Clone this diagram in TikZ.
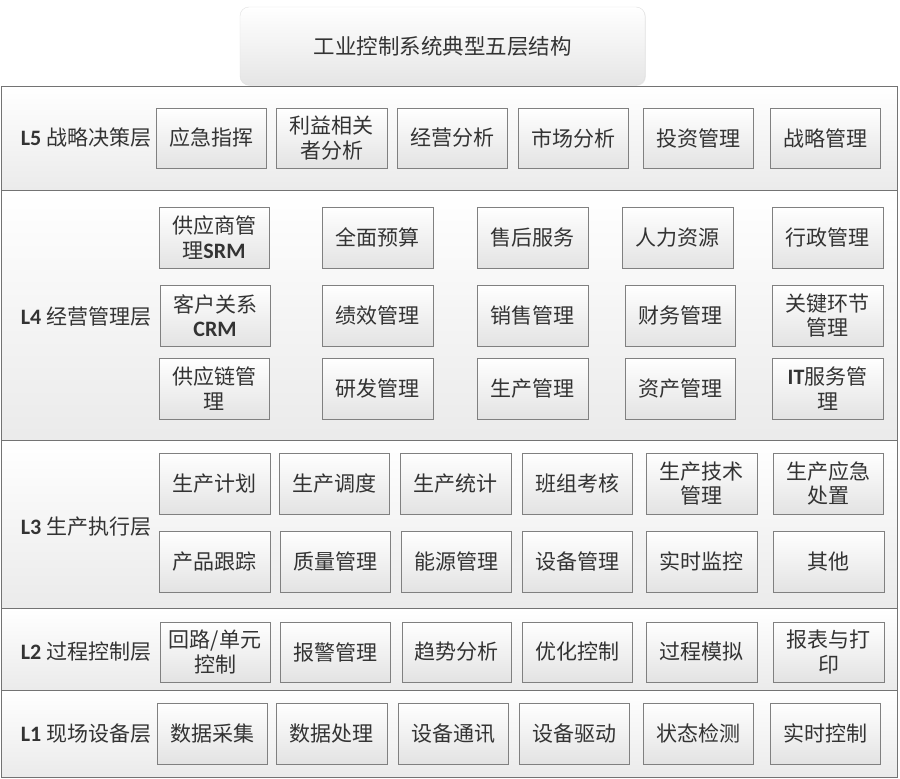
\documentclass[tikz,border=0pt]{standalone}
\usepackage{fontspec}
\setmainfont{Noto Sans CJK SC}
\newfontfamily\lat{Carlito}
\usetikzlibrary{shadows}
\newcommand\la[1]{{\lat\bfseries\fontsize{22}{25}\selectfont #1}}
\newcommand\bx[6]{\node[box,minimum width={(#4-#2)*1pt},minimum height={(#5-#3)*1pt}] (#1) at ({(#2+#4)/2},{(#3+#5)/2}) {#6};}
\begin{document}
\begin{tikzpicture}[x=1pt,y=-1pt,
  txt/.style={text=black!80,font=\fontsize{21}{24.5}\selectfont,align=center,inner sep=0pt},
  box/.style={txt,draw=black!50,line width=0.9pt,top color=white,bottom color=black!11,
    drop shadow={shadow xshift=1.2pt,shadow yshift=-1.2pt,fill=black!25,opacity=0.6}},
  band/.style={draw=black!55,line width=0.9pt,top color=white,bottom color=black!8,inner sep=0pt},
  lbl/.style={txt,anchor=center},
  title/.style={txt,font=\fontsize{21.5}{24}\selectfont,rounded corners=9pt,draw=black!12,top color=white,bottom color=black!10,
    drop shadow={shadow xshift=0.8pt,shadow yshift=-0.8pt,fill=black!15,opacity=0.5}}]
\useasboundingbox (0,0) rectangle (900,779);
\fill[white] (0,0) rectangle (900,779);
% bands
\node[band,minimum width=896pt,minimum height=105pt] (B5) at (449,138.5) {};
\node[band,minimum width=896pt,minimum height=250pt] (B4) at (449,315) {};
\node[band,minimum width=896pt,minimum height=168pt] (B3) at (449,524) {};
\node[band,minimum width=896pt,minimum height=82pt] (B2) at (449,649) {};
\node[band,minimum width=896pt,minimum height=87pt] (B1) at (449,733.5) {};
% title
\node[title,minimum width=405pt,minimum height=78pt] (T) at (442.5,46) {工业控制系统典型五层结构};
% labels
\node[lbl] (N5) at (86,138) {\la{L5} 战略决策层};
\node[lbl] (N4) at (86,317) {\la{L4} 经营管理层};
\node[lbl] (N3) at (86,527) {\la{L3} 生产执行层};
\node[lbl] (N2) at (86,652) {\la{L2} 过程控制层};
\node[lbl] (N1) at (86,734) {\la{L1} 现场设备层};
% L5
\bx{a1}{156}{108}{266}{168}{应急指挥}
\bx{a2}{276}{108}{387}{168}{利益相关\\者分析}
\bx{a3}{397}{108}{507}{168}{经营分析}
\bx{a4}{518}{108}{628}{168}{市场分析}
\bx{a5}{643}{108}{753}{168}{投资管理}
\bx{a6}{770}{108}{880}{168}{战略管理}
% L4
\bx{b11}{159}{207}{269}{268}{供应商管\\理\la{SRM}}
\bx{b12}{322}{207}{433}{268}{全面预算}
\bx{b13}{477}{207}{588}{268}{售后服务}
\bx{b14}{622}{207}{733}{268}{人力资源}
\bx{b15}{772}{207}{883}{268}{行政管理}
\bx{b21}{160}{285}{270}{346}{客户关系\\\la{CRM}}
\bx{b22}{322}{285}{433}{346}{绩效管理}
\bx{b23}{477}{285}{588}{346}{销售管理}
\bx{b24}{625}{285}{735}{346}{财务管理}
\bx{b25}{772}{285}{883}{346}{关键环节\\管理}
\bx{b31}{159}{358}{269}{419}{供应链管\\理}
\bx{b32}{322}{358}{433}{419}{研发管理}
\bx{b33}{477}{358}{588}{419}{生产管理}
\bx{b34}{625}{358}{735}{419}{资产管理}
\bx{b35}{772}{358}{883}{419}{\la{IT}服务管\\理}
% L3
\bx{c11}{159}{453}{270}{514}{生产计划}
\bx{c12}{279}{453}{389}{514}{生产调度}
\bx{c13}{400}{453}{511}{514}{生产统计}
\bx{c14}{522}{453}{632}{514}{班组考核}
\bx{c15}{646}{453}{757}{514}{生产技术\\管理}
\bx{c16}{773}{453}{883}{514}{生产应急\\处置}
\bx{c21}{159}{531}{270}{592}{产品跟踪}
\bx{c22}{280}{531}{390}{592}{质量管理}
\bx{c23}{401}{531}{511}{592}{能源管理}
\bx{c24}{522}{531}{632}{592}{设备管理}
\bx{c25}{646}{531}{757}{592}{实时监控}
\bx{c26}{773}{531}{884}{592}{其他}
% L2
\bx{d1}{160}{622}{270}{682}{回路/单元\\控制}
\bx{d2}{280}{622}{390}{682}{报警管理}
\bx{d3}{402}{622}{511}{682}{趋势分析}
\bx{d4}{522}{622}{632}{682}{优化控制}
\bx{d5}{646}{622}{757}{682}{过程模拟}
\bx{d6}{773}{622}{884}{682}{报表与打\\印}
% L1
\bx{e1}{157}{703}{267}{764}{数据采集}
\bx{e2}{276}{703}{387}{764}{数据处理}
\bx{e3}{398}{703}{508}{764}{设备通讯}
\bx{e4}{519}{703}{629}{764}{设备驱动}
\bx{e5}{643}{703}{753}{764}{状态检测}
\bx{e6}{770}{703}{880}{764}{实时控制}
\end{tikzpicture}
\end{document}
